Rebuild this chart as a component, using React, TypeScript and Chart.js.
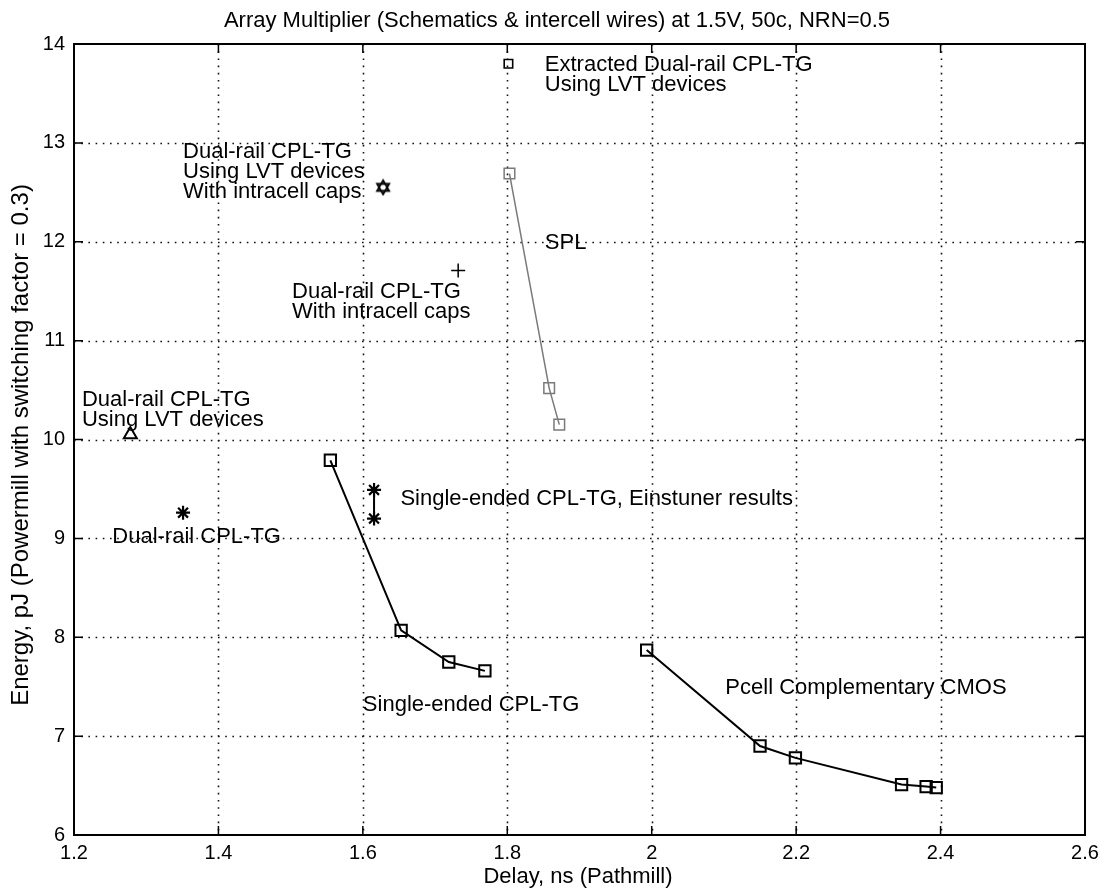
import React, { useEffect, useRef } from 'react';
import { Chart, registerables } from 'chart.js';

Chart.register(...registerables);

const titleText = 'Array Multiplier (Schematics & intercell wires) at 1.5V, 50c, NRN=0.5';
const xAxisTitle = 'Delay, ns (Pathmill)';
const yAxisTitle = 'Energy, pJ (Powermill with switching factor = 0.3)';

const xTickValues = [1.2, 1.4, 1.6, 1.8, 2.0, 2.2, 2.4, 2.6];
const yTickValues = [6, 7, 8, 9, 10, 11, 12, 13, 14];

const singleEndedDelay = [1.555, 1.653, 1.719, 1.769];
const singleEndedEnergy = [9.79, 8.07, 7.75, 7.66];

const cmosDelay = [1.993, 2.15, 2.199, 2.346, 2.38, 2.394];
const cmosEnergy = [7.87, 6.9, 6.78, 6.51, 6.49, 6.48];

const splDelay = [1.803, 1.858, 1.872];
const splEnergy = [12.69, 10.52, 10.15];

const extractedDelay = [1.8016];
const extractedEnergy = [13.8];

const einstunerDelay = [1.6155, 1.6155];
const einstunerEnergy = [9.49, 9.2];

const dualRailDelay = [1.351];
const dualRailEnergy = [9.26];

const dualLvtCapsDelay = [1.628];
const dualLvtCapsEnergy = [12.55];

const dualCapsDelay = [1.732];
const dualCapsEnergy = [11.71];

const dualLvtDelay = [1.278];
const dualLvtEnergy = [10.05];

const annotationLines = [
  ['Extracted Dual-rail CPL-TG', 'Using LVT devices'],
  ['Dual-rail CPL-TG', 'Using LVT devices', 'With intracell caps'],
  ['SPL'],
  ['Dual-rail CPL-TG', 'With intracell caps'],
  ['Dual-rail CPL-TG', 'Using LVT devices'],
  ['Single-ended CPL-TG, Einstuner results'],
  ['Dual-rail CPL-TG'],
  ['Single-ended CPL-TG'],
  ['Pcell Complementary CMOS'],
];
const annotationX = [1.852, 1.351, 1.852, 1.502, 1.211, 1.652, 1.253, 1.6, 2.102];
const annotationY = [13.79, 12.91, 11.99, 11.49, 10.4, 9.4, 9.015, 7.32, 7.49];

const FONT = '"Liberation Sans", Arial, Helvetica, sans-serif';

function zip(xs: number[], ys: number[]) {
  return xs.map((x, i) => ({ x, y: ys[i] }));
}

function makeHexagram(): HTMLCanvasElement {
  const c = document.createElement('canvas');
  const s = 18;
  c.width = s;
  c.height = s;
  const g = c.getContext('2d')!;
  g.strokeStyle = '#000';
  g.lineWidth = 1.8;
  const cx = s / 2;
  const cy = s / 2;
  const r = 7;
  for (let t = 0; t < 2; t++) {
    g.beginPath();
    for (let k = 0; k < 3; k++) {
      const a = -Math.PI / 2 + (t * Math.PI) / 3 + (k * 2 * Math.PI) / 3;
      const px = cx + r * Math.cos(a);
      const py = cy + r * Math.sin(a);
      if (k === 0) g.moveTo(px, py);
      else g.lineTo(px, py);
    }
    g.closePath();
    g.stroke();
  }
  return c;
}

const framePlugin = {
  id: 'matlabFrame',
  beforeDatasetsDraw(chart: any) {
    const { ctx, chartArea } = chart;
    const xs = chart.scales.x;
    const ys = chart.scales.y;
    ctx.save();
    ctx.strokeStyle = '#111';
    ctx.lineWidth = 1.6;
    ctx.setLineDash([1.6, 5.6]);
    xTickValues.forEach((v) => {
      const px = Math.round(xs.getPixelForValue(v)) + 0.5;
      if (px <= chartArea.left + 2 || px >= chartArea.right - 2) return;
      ctx.beginPath();
      ctx.moveTo(px, chartArea.top);
      ctx.lineTo(px, chartArea.bottom);
      ctx.stroke();
    });
    yTickValues.forEach((v) => {
      const py = Math.round(ys.getPixelForValue(v)) + 0.5;
      if (py <= chartArea.top + 2 || py >= chartArea.bottom - 2) return;
      ctx.beginPath();
      ctx.moveTo(chartArea.left, py);
      ctx.lineTo(chartArea.right, py);
      ctx.stroke();
    });
    ctx.restore();
  },
  afterDraw(chart: any) {
    const { ctx, chartArea } = chart;
    const xs = chart.scales.x;
    const ys = chart.scales.y;
    ctx.save();
    ctx.setLineDash([]);
    ctx.strokeStyle = '#000';
    ctx.lineWidth = 2;
    ctx.strokeRect(chartArea.left, chartArea.top, chartArea.right - chartArea.left, chartArea.bottom - chartArea.top);
    const tl = 9;
    ctx.lineWidth = 1.5;
    xTickValues.forEach((v) => {
      const px = xs.getPixelForValue(v);
      ctx.beginPath();
      ctx.moveTo(px, chartArea.bottom);
      ctx.lineTo(px, chartArea.bottom - tl);
      ctx.moveTo(px, chartArea.top);
      ctx.lineTo(px, chartArea.top + tl);
      ctx.stroke();
    });
    yTickValues.forEach((v) => {
      const py = ys.getPixelForValue(v);
      ctx.beginPath();
      ctx.moveTo(chartArea.left, py);
      ctx.lineTo(chartArea.left + tl, py);
      ctx.moveTo(chartArea.right, py);
      ctx.lineTo(chartArea.right - tl, py);
      ctx.stroke();
    });
    ctx.fillStyle = '#000';
    ctx.textAlign = 'center';
    ctx.textBaseline = 'middle';
    ctx.font = `22px ${FONT}`;
    ctx.fillText(titleText, 557, 21);
    ctx.font = `22px ${FONT}`;
    ctx.fillText(xAxisTitle, 578, 877);
    ctx.save();
    ctx.translate(21, 445);
    ctx.rotate(-Math.PI / 2);
    ctx.font = `24px ${FONT}`;
    ctx.fillText(yAxisTitle, 0, 0);
    ctx.restore();
    ctx.font = `22px ${FONT}`;
    ctx.textAlign = 'left';
    annotationLines.forEach((lines, i) => {
      const px = xs.getPixelForValue(annotationX[i]);
      const py = ys.getPixelForValue(annotationY[i]);
      lines.forEach((line, j) => {
        ctx.fillText(line, px, py + j * 20);
      });
    });
    ctx.restore();
  },
};

export default function App() {
  const ref = useRef<HTMLCanvasElement | null>(null);
  useEffect(() => {
    if (!ref.current) return;
    const hexagram = makeHexagram();
    const gray = '#7a7a7a';
    const chart = new Chart(ref.current, {
      type: 'scatter',
      data: {
        datasets: [
          {
            label: 'SPL',
            data: zip(splDelay, splEnergy),
            showLine: true,
            borderColor: gray,
            borderWidth: 1.5,
            pointStyle: 'rect',
            pointRadius: 7.5,
            pointBorderColor: gray,
            pointBackgroundColor: 'rgba(0,0,0,0)',
            pointBorderWidth: 1.5,
          },
          {
            label: 'Single-ended CPL-TG',
            data: zip(singleEndedDelay, singleEndedEnergy),
            showLine: true,
            borderColor: '#000',
            borderWidth: 2,
            pointStyle: 'rect',
            pointRadius: 8,
            pointBorderColor: '#000',
            pointBackgroundColor: 'rgba(0,0,0,0)',
            pointBorderWidth: 2,
          },
          {
            label: 'Pcell Complementary CMOS',
            data: zip(cmosDelay, cmosEnergy),
            showLine: true,
            borderColor: '#000',
            borderWidth: 2,
            pointStyle: 'rect',
            pointRadius: 8,
            pointBorderColor: '#000',
            pointBackgroundColor: 'rgba(0,0,0,0)',
            pointBorderWidth: 2,
          },
          {
            label: 'Extracted Dual-rail CPL-TG',
            data: zip(extractedDelay, extractedEnergy),
            pointStyle: 'rect',
            pointRadius: 6,
            pointBorderColor: '#000',
            pointBackgroundColor: 'rgba(0,0,0,0)',
            pointBorderWidth: 1.6,
          },
          {
            label: 'Einstuner',
            data: zip(einstunerDelay, einstunerEnergy),
            showLine: true,
            borderColor: '#000',
            borderWidth: 2,
            pointStyle: 'star',
            pointRadius: 7,
            pointBorderColor: '#000',
            pointBorderWidth: 2.2,
          },
          {
            label: 'Dual-rail CPL-TG',
            data: zip(dualRailDelay, dualRailEnergy),
            pointStyle: 'star',
            pointRadius: 7,
            pointBorderColor: '#000',
            pointBorderWidth: 2.2,
          },
          {
            label: 'Dual-rail LVT caps',
            data: zip(dualLvtCapsDelay, dualLvtCapsEnergy),
            pointStyle: hexagram as any,
            pointRadius: 9,
          },
          {
            label: 'Dual-rail caps',
            data: zip(dualCapsDelay, dualCapsEnergy),
            pointStyle: 'cross',
            pointRadius: 7,
            pointBorderColor: '#000',
            pointBorderWidth: 1.5,
          },
          {
            label: 'Dual-rail LVT',
            data: zip(dualLvtDelay, dualLvtEnergy),
            pointStyle: 'triangle',
            pointRadius: 7.5,
            pointBorderColor: '#000',
            pointBackgroundColor: 'rgba(0,0,0,0)',
            pointBorderWidth: 2,
          },
        ],
      },
      options: {
        responsive: false,
        animation: false,
        layout: { padding: { top: 44, right: 20, left: 0, bottom: 0 } },
        plugins: {
          legend: { display: false },
          tooltip: { enabled: false },
          title: { display: false },
        },
        scales: {
          x: {
            type: 'linear',
            min: 1.2,
            max: 2.6,
            afterBuildTicks: (scale: any) => {
              scale.ticks = xTickValues.map((v) => ({ value: v }));
            },
            afterFit: (scale: any) => {
              scale.height = 59;
            },
            grid: { display: false, drawTicks: false },
            border: { display: false },
            ticks: {
              color: '#000',
              font: { size: 20, family: FONT },
              padding: 6,
              maxRotation: 0,
              autoSkip: false,
              callback: (v: any) => String(Number(Number(v).toFixed(1))),
            },
          },
          y: {
            type: 'linear',
            min: 6,
            max: 14,
            afterBuildTicks: (scale: any) => {
              scale.ticks = yTickValues.map((v) => ({ value: v }));
            },
            afterFit: (scale: any) => {
              scale.width = 74;
            },
            grid: { display: false, drawTicks: false },
            border: { display: false },
            ticks: {
              color: '#000',
              font: { size: 20, family: FONT },
              padding: 9,
              autoSkip: false,
              callback: (v: any) => String(Number(v)),
            },
          },
        },
      },
      plugins: [framePlugin],
    } as any);
    return () => chart.destroy();
  }, []);
  return (
    <div style={{ position: 'fixed', left: 0, top: 0, width: 1105, height: 894, background: '#fff' }}>
      <canvas ref={ref} width={1105} height={894} style={{ width: 1105, height: 894, display: 'block' }} />
    </div>
  );
}
